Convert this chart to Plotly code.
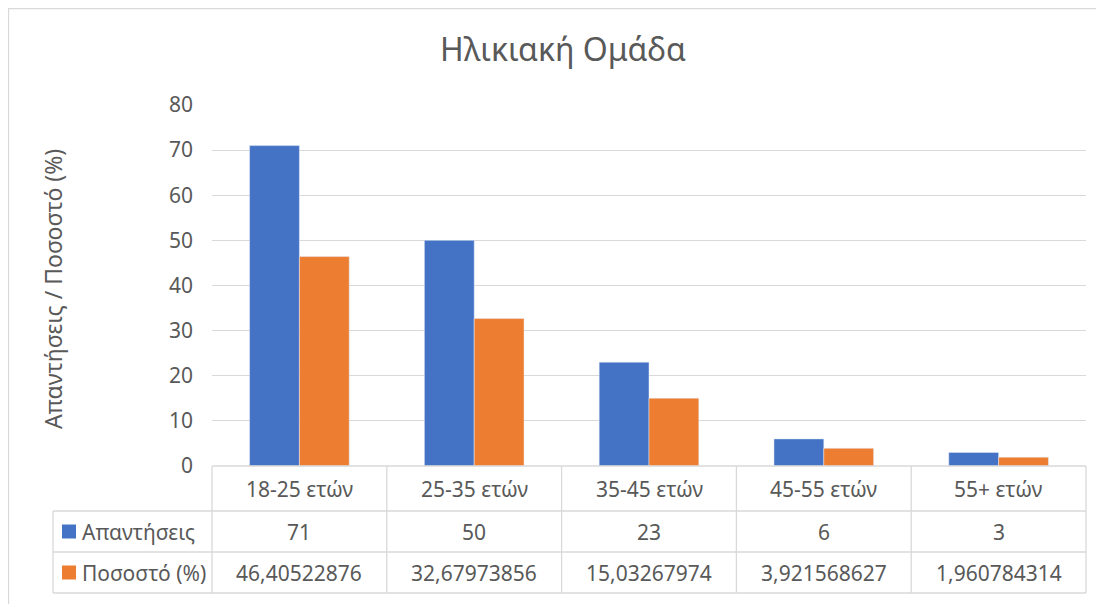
import plotly.graph_objects as go

# Δεδομένα
categories = ["18-25 ετών", "25-35 ετών", "35-45 ετών", "45-55 ετών", "55+ ετών"]
responses = [71, 50, 23, 6, 3]
percent = [46.40522876, 32.67973856, 15.03267974, 3.921568627, 1.960784314]
series_names = ["Απαντήσεις", "Ποσοστό (%)"]
y_ticks = [0, 10, 20, 30, 40, 50, 60, 70, 80]

# η σελίδα έχει περιθώριο 8px, οπότε το σχήμα είναι λίγο μικρότερο
OFF = 8
W, H = 1104 - OFF, 604 - OFF
BLUE, ORANGE = "#4472C4", "#ED7D31"
GRID = "#d9d9d9"
TXT = "#595959"
FONT = "Noto Sans"

# pixel οθόνης -> paper
def px(x):
    return (x - OFF) / W

def py(y):
    return 1 - (y - OFF) / H

plot_l, plot_r, plot_t, plot_b = 212, 1086, 105, 466
row_lines = [466, 511, 552, 593]
legend_l = 53
col_w = (plot_r - plot_l) / len(categories)

fig = go.Figure()
fig.add_trace(go.Bar(x=categories, y=responses, name=series_names[0], marker_color=BLUE))
fig.add_trace(go.Bar(x=categories, y=percent, name=series_names[1], marker_color=ORANGE))

shapes = []
annotations = []

# πίνακας δεδομένων
line = dict(color=GRID, width=1.3)
for i, yy in enumerate(row_lines):
    x0 = plot_l if i == 0 else legend_l
    shapes.append(dict(type="line", xref="paper", yref="paper",
                       x0=px(x0), x1=px(plot_r), y0=py(yy), y1=py(yy), line=line))
for i in range(len(categories) + 1):
    xx = plot_l + i * col_w
    shapes.append(dict(type="line", xref="paper", yref="paper",
                       x0=px(xx), x1=px(xx), y0=py(row_lines[0]), y1=py(row_lines[-1]), line=line))
shapes.append(dict(type="line", xref="paper", yref="paper",
                   x0=px(legend_l), x1=px(legend_l), y0=py(row_lines[1]), y1=py(row_lines[-1]), line=line))

# εξωτερικό πλαίσιο
shapes.append(dict(type="rect", xref="paper", yref="paper",
                   x0=px(8.5), x1=px(1110), y0=py(8.5), y1=py(610),
                   line=dict(color=GRID, width=1.3)))

def fmt(v):
    return f"{v:.10g}".replace(".", ",")

rows = [[str(v) for v in responses], [fmt(v) for v in percent]]
for i, cat in enumerate(categories):
    cx = plot_l + (i + 0.5) * col_w
    annotations.append(dict(text=cat, x=px(cx), y=py((row_lines[0] + row_lines[1]) / 2)))
    for r in range(2):
        annotations.append(dict(text=rows[r][i], x=px(cx), y=py((row_lines[r + 1] + row_lines[r + 2]) / 2)))

for r, (name, col) in enumerate(zip(series_names, [BLUE, ORANGE])):
    yc = (row_lines[r + 1] + row_lines[r + 2]) / 2
    shapes.append(dict(type="rect", xref="paper", yref="paper",
                       x0=px(62), x1=px(76), y0=py(yc - 7), y1=py(yc + 7),
                       fillcolor=col, line=dict(width=0)))
    annotations.append(dict(text=name, x=px(80), y=py(yc), xanchor="left"))

for a in annotations:
    a.update(xref="paper", yref="paper", showarrow=False,
             font=dict(family=FONT, size=21, color=TXT))
    a.setdefault("xanchor", "center")
    a.setdefault("yanchor", "middle")

annotations.append(dict(text="Απαντήσεις / Ποσοστό (%)", x=px(35), y=py(289),
                        xref="paper", yref="paper", showarrow=False, textangle=-90,
                        font=dict(family=FONT, size=23, color=TXT)))

fig.update_layout(
    width=W, height=H,
    margin=dict(l=0, r=0, t=0, b=0, autoexpand=False),
    paper_bgcolor="white", plot_bgcolor="white",
    barmode="group", bargap=0.43, bargroupgap=0,
    showlegend=False,
    title=dict(text="Ηλικιακή Ομάδα", x=px(563), y=py(50), xanchor="center", yanchor="middle",
               font=dict(family=FONT, size=32, color=TXT), automargin=False),
    xaxis=dict(domain=[px(plot_l), px(plot_r)], showticklabels=False, showgrid=False,
               showline=False, ticks="", automargin=False),
    yaxis=dict(domain=[py(plot_b), py(plot_t)], range=[0, 80], tickvals=y_ticks,
               showgrid=True, gridcolor=GRID, gridwidth=1.3, zeroline=False,
               ticks="", ticklabelstandoff=18, automargin=False,
               tickfont=dict(family=FONT, size=21, color=TXT)),
    shapes=shapes,
    annotations=annotations,
)

fig.write_html("out.html")
